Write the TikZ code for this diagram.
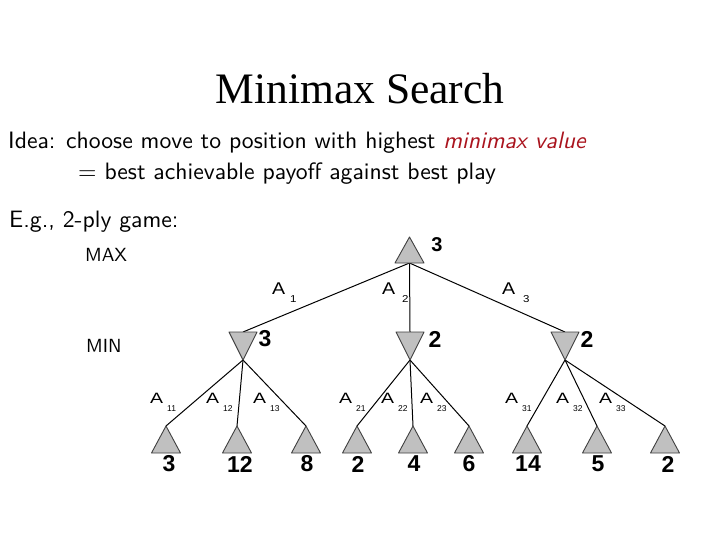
\documentclass[tikz,border=0pt]{standalone}
\usepackage{fontspec}
\setmainfont{Liberation Serif}
\newfontfamily\helv{Liberation Sans}
\newfontfamily\helvtop{Liberation Sans}[FakeStretch=1.15]
\newfontfamily\helvlow{Liberation Sans}[FakeStretch=1.3]
\newfontfamily\lmsans{lmsans10-regular.otf}[ItalicFont=lmsans10-oblique.otf]
\definecolor{tri}{RGB}{192,192,192}
\definecolor{darkred}{RGB}{170,20,30}
\newcommand\MaxTri[5]{% name, cx, apex y, base y, half width
  \coordinate (#1-a) at (#2,#3);
  \coordinate (#1-b) at (#2,#4);
  \filldraw[trishape] ({#2-#5},#4) -- (#2,#3) -- ({#2+#5},#4) -- cycle;}
\newcommand\MinTri[5]{% name, cx, top y, apex y, half width
  \coordinate (#1-t) at (#2,#3);
  \coordinate (#1-a) at (#2,#4);
  \filldraw[trishape] ({#2-#5},#3) -- (#2,#4) -- ({#2+#5},#3) -- cycle;}
\begin{document}
\begin{tikzpicture}[x=1pt,y=-1pt,
  trishape/.style={fill=tri,draw=black!75,line width=0.9pt,line join=round},
  edge/.style={draw=black,line width=1pt},
  body/.style={anchor=base west,inner sep=0pt,font=\lmsans\fontsize{23.7}{26}\selectfont},
  levlab/.style={anchor=base west,inner sep=0pt,font=\lmsans\fontsize{19}{22}\selectfont},
  val/.style={inner sep=0pt,font=\helv\bfseries\fontsize{23}{26}\selectfont},
  rootval/.style={inner sep=0pt,font=\helv\bfseries\fontsize{20}{24}\selectfont},
  alab/.style={anchor=base west,inner sep=0pt,font=\helvtop\fontsize{17}{19}\selectfont},
  asub/.style={anchor=base west,inner sep=0pt,font=\helvtop\fontsize{10}{11}\selectfont},
  blab/.style={anchor=base west,inner sep=0pt,font=\helvlow\fontsize{15}{17}\selectfont},
  bsub/.style={anchor=base west,inner sep=0pt,font=\helv\fontsize{8.5}{9}\selectfont}]
\useasboundingbox[fill=white] (0,0) rectangle (720,540);

% title and text
\node[anchor=base,inner sep=0pt,font=\fontsize{43.5}{48}\selectfont] (title) at (360,104) {Minimax Search};
\node[body] (idea) at (8,149) {Idea: choose move to position with highest \textcolor{darkred}{\itshape minimax value}};
\node[body] (eq) at (78,180) {= best achievable payoff against best play};
\node[body] (eg) at (9,228) {E.g., 2-ply game:};
\node[levlab] (maxlab) at (85,261) {MAX};
\node[levlab] (minlab) at (86,352) {MIN};

% edges first (under triangles)
\coordinate (r-b) at (409.5,263);
\foreach \x/\n in {243/1,410/2,565/3} \coordinate (m\n-t) at (\x,332);
\foreach \x/\n in {243/1,410/2,565/3} \coordinate (m\n-a) at (\x,360);
\foreach \x/\n in {166/1,237/2,306/3,357/4,413/5,469/6,527/7,597/8,665/9} \coordinate (l\n-a) at (\x,426);
\draw[edge] (r-b) -- (m1-t);
\draw[edge] (r-b) -- (m2-t);
\draw[edge] (r-b) -- (m3-t);
\draw[edge] (m1-a) -- (l1-a);
\draw[edge] (m1-a) -- (l2-a);
\draw[edge] (m1-a) -- (l3-a);
\draw[edge] (m2-a) -- (l4-a);
\draw[edge] (m2-a) -- (l5-a);
\draw[edge] (m2-a) -- (l6-a);
\draw[edge] (m3-a) -- (l7-a);
\draw[edge] (m3-a) -- (l8-a);
\draw[edge] (m3-a) -- (l9-a);

% triangles
\MaxTri{r}{409.5}{237}{263}{14.5}
\MinTri{m1}{243}{332}{360}{14}
\MinTri{m2}{410}{332}{360}{14}
\MinTri{m3}{565}{332}{360}{14}
\foreach \x/\n in {166/1,237/2,306/3,357/4,413/5,469/6,527/7,597/8,665/9}
  {\MaxTri{l\n}{\x}{426}{453}{14.5}}

% values
\node[rootval] (vr) at (437,245) {3};
\node[val] (vm1) at (265,339) {3};
\node[val] (vm2) at (435,339) {2};
\node[val] (vm3) at (587,339) {2};
\foreach \x/\v/\n in {169/3/1,240/12/2,307/8/3,358/2/4,414/4/5,469/6/6,528/14/7,598/5/8,668/2/9}
  \node[val] (vl\n) at (\x,464) {\v};

% top edge labels
\node[alab] (a1) at (272,294) {A};
\node[asub] (a1s) at (290,302) {1};
\node[alab] (a2) at (382,294) {A};
\node[asub] (a2s) at (402,302) {2};
\node[alab] (a3) at (502,294) {A};
\node[asub] (a3s) at (523,302) {3};

% lower edge labels
\foreach \x/\s in {150/11,206/12,253/13,339/21,381/22,420/23,505/31,556/32,599/33}
{
  \node[blab] (b\s) at (\x,403) {A};
  \node[bsub] (b\s s) at ({\x+17},411) {\s};
}
\end{tikzpicture}
\end{document}
